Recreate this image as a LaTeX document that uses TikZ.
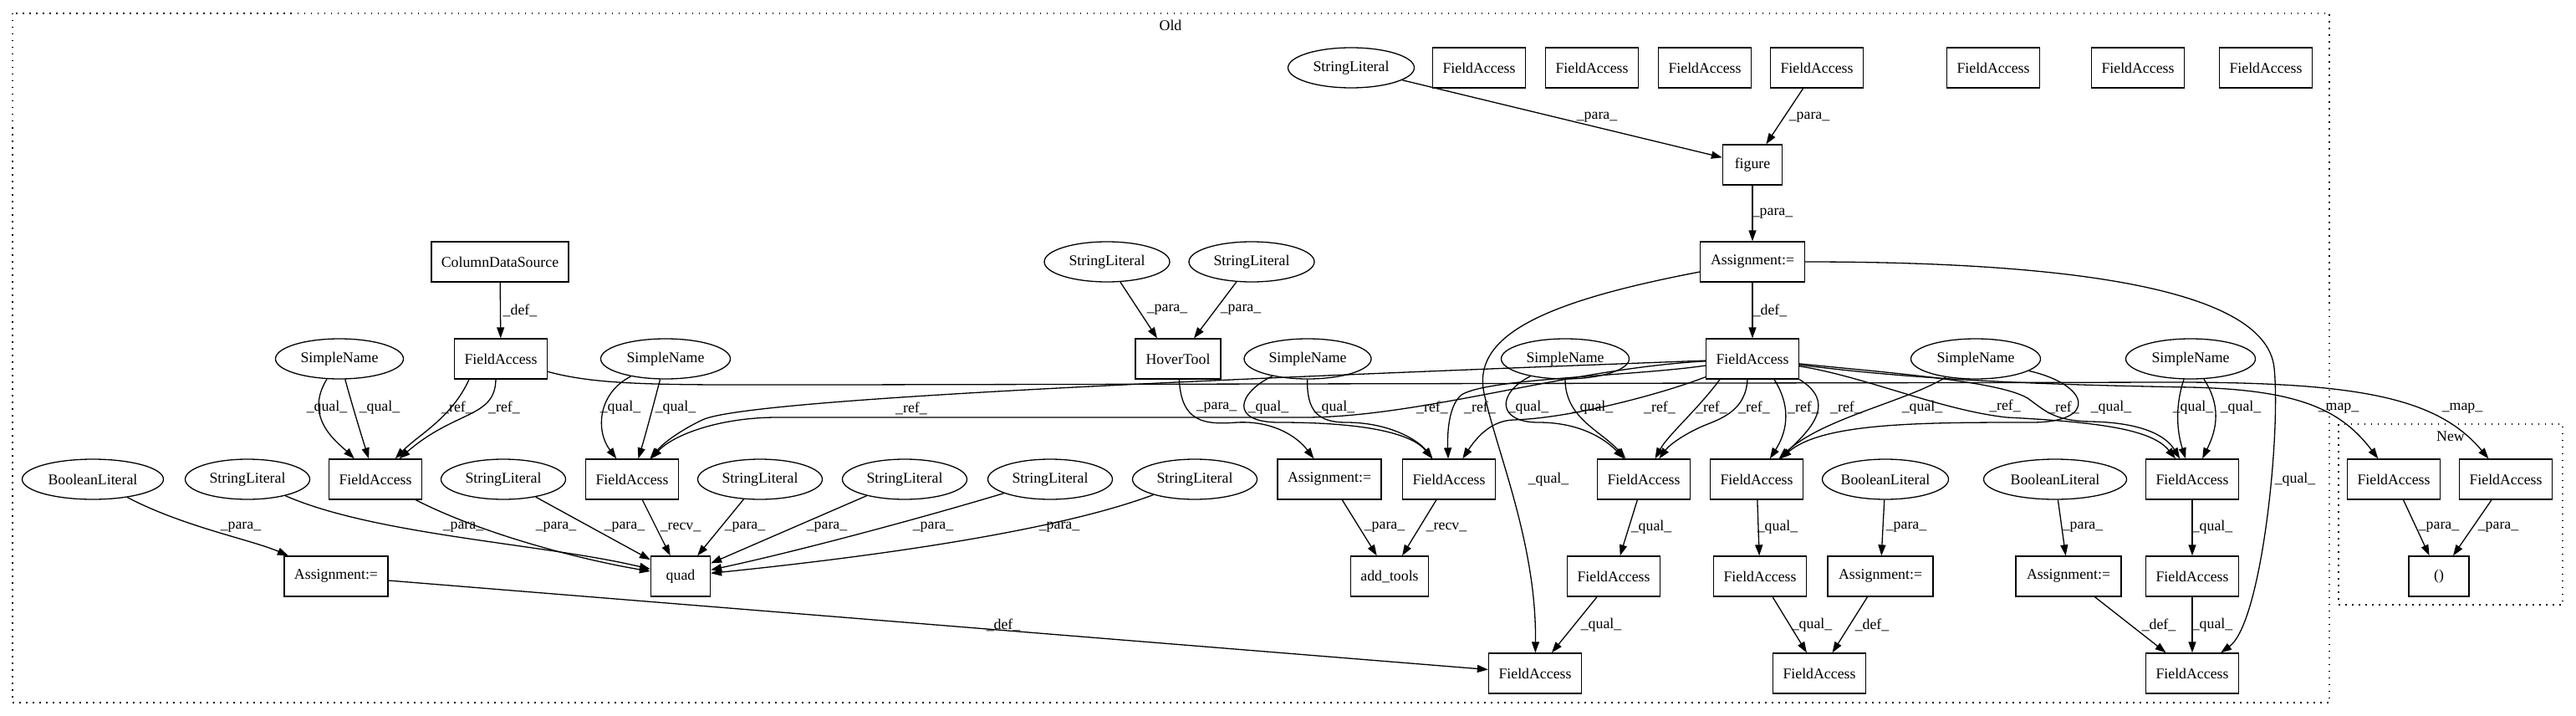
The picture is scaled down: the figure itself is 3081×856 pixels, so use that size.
\documentclass[tikz,border=0pt]{standalone}
\usepackage{fontspec}
\setmainfont{Liberation Serif}
\usetikzlibrary{arrows.meta,shapes.geometric,calc}
\begin{document}
\begin{tikzpicture}[x=1pt,y=-1pt,
  every node/.style={font=\fontsize{17.8pt}{20pt}\selectfont},
  box/.style={draw,rectangle,line width=1.3pt,minimum width=111pt,minimum height=48pt,inner sep=0pt},
  ell/.style={draw,ellipse,line width=1.3pt,minimum width=155pt,minimum height=48pt,inner sep=0pt},
  e/.style={line width=1.3pt,-{Triangle[length=13pt,width=9pt]}},
  lb/.style={inner sep=0pt},
  clus/.style={line width=1.3pt,dash pattern=on 1.5pt off 6.5pt}]
\useasboundingbox (0,0) rectangle (3081,856);
% clusters
\draw[clus] (15,16) rectangle (2786,840);
\node (oldlbl) at (1400,30) {Old};
\draw[clus] (2797,507) rectangle (3065,723);
\node (newlbl) at (2931,522) {New};
% row 0
\node[ell,minimum width=151pt] (sl0) at (1616,81) {StringLiteral};
\node[box] (ft1) at (1769,81) {FieldAccess};
\node[box] (ft2) at (1904,81) {FieldAccess};
\node[box] (ft3) at (2039,81) {FieldAccess};
\node[box] (ft4) at (2173,81) {FieldAccess};
\node[box] (ft5) at (2384,81) {FieldAccess};
\node[box] (ft6) at (2557,81) {FieldAccess};
\node[box] (ft7) at (2710,81) {FieldAccess};
% row 1
\node[box,minimum width=71pt] (fig) at (2096,197) {figure};
% row 2
\node[box,minimum width=125pt] (asg) at (2096,313) {Assignment:=};
\node[box,minimum width=164pt] (cds) at (598,313) {ColumnDataSource};
\node[ell,minimum width=150pt] (slh1) at (1324,313) {StringLiteral};
\node[ell,minimum width=150pt] (slh2) at (1497,313) {StringLiteral};
% row 3
\node[ell,minimum width=153pt] (sn1) at (406,429) {SimpleName};
\node[box] (fac) at (599,429) {FieldAccess};
\node[ell] (sn2) at (796,429) {SimpleName};
\node[box,minimum width=102pt] (hover) at (1409,429) {HoverTool};
\node[ell,minimum width=152pt] (sn3) at (1564,429) {SimpleName};
\node[ell,minimum width=153pt] (sn4) at (1872,429) {SimpleName};
\node[box] (hub) at (2096,429) {FieldAccess};
\node[ell] (sn5) at (2363,429) {SimpleName};
\node[ell] (sn6) at (2620,429) {SimpleName};
% row 4
\node[ell,minimum width=169pt] (bl1) at (111,573) {BooleanLiteral};
\node[ell,minimum width=149pt] (sl1) at (296,573) {StringLiteral};
\node[box] (fa1) at (449,573) {FieldAccess};
\node[ell,minimum width=149pt] (sl2) at (602,573) {StringLiteral};
\node[box] (fa2) at (756,573) {FieldAccess};
\node[ell,minimum width=149pt] (sl3) at (909,573) {StringLiteral};
\node[ell,minimum width=149pt] (sl4) at (1082,573) {StringLiteral};
\node[ell,minimum width=149pt] (sl5) at (1256,573) {StringLiteral};
\node[ell,minimum width=149pt] (sl6) at (1429,573) {StringLiteral};
\node[box,minimum width=124pt] (asg2) at (1590,573) {Assignment:=};
\node[box] (fa3) at (1733,573) {FieldAccess};
\node[box] (fa4) at (1966,573) {FieldAccess};
\node[box] (fa5) at (2101,573) {FieldAccess};
\node[ell,minimum width=149pt] (bl2) at (2255,573) {BooleanLiteral};
\node[ell,minimum width=171pt] (bl3) at (2458,573) {BooleanLiteral};
\node[box] (fa6) at (2622,573) {FieldAccess};
\node[box] (nfa1) at (2863,573) {FieldAccess};
\node[box] (nfa2) at (2997,573) {FieldAccess};
% row 5
\node[box,minimum width=124pt] (asg1) at (402,689) {Assignment:=};
\node[box,minimum width=71pt] (quad) at (814,689) {quad};
\node[box,minimum width=93pt] (addt) at (1662,689) {add\_tools};
\node[box] (fa7) at (1930,689) {FieldAccess};
\node[box] (fa8) at (2105,689) {FieldAccess};
\node[box,minimum width=126pt] (asg3) at (2249,689) {Assignment:=};
\node[box,minimum width=126pt] (asg4) at (2474,689) {Assignment:=};
\node[box] (fa9) at (2622,689) {FieldAccess};
\node[box,minimum width=72pt] (par) at (2917,689) {()};
% row 6
\node[box] (fa10) at (1836,805) {FieldAccess};
\node[box] (fa11) at (2176,805) {FieldAccess};
\node[box] (fa12) at (2622,805) {FieldAccess};

% ---- edges ----
\draw[e] (sl0) -- (fig) node[lb] at (1910,140) {\_para\_};
\draw[e] (ft4) -- (fig) node[lb] at (2164,140) {\_para\_};
\draw[e] (fig) -- (asg) node[lb] at (2120,255) {\_para\_};
\draw[e] (asg) -- (hub) node[lb] at (2117,371) {\_def\_};
\draw[e] (asg) .. controls (1850,360) and (1760,400) .. (1775,470) .. controls (1790,540) and (1838,650) .. (fa10) node[lb] at (1852,573) {\_qual\_};
\draw[e] (asg) .. controls (2450,313) and (2710,340) .. (2720,440) .. controls (2728,520) and (2705,745) .. (fa12) node[lb] at (2745,573) {\_qual\_};
\draw[e] (cds) -- (fac) node[lb] at (622,371) {\_def\_};
\draw[e] (slh1) -- ($(hover.north)+(-25,0)$) node[lb] at (1396,370) {\_para\_};
\draw[e] (slh2) -- ($(hover.north)+(19,0)$) node[lb] at (1484,370) {\_para\_};
% sn1, fac -> fa1
\draw[e] (sn1) .. controls (362,500) and (405,530) .. (fa1) node[lb] at (391,487) {\_qual\_};
\draw[e] (sn1) .. controls (420,480) and (432,520) .. (fa1) node[lb] at (454,487) {\_qual\_};
\draw[e] ($(fac.south)+(-38,0)$) .. controls (540,500) and (500,520) .. (fa1) node[lb] at (547,487) {\_ref\_};
\draw[e] ($(fac.south)+(-6,0)$) .. controls (592,500) and (545,490) .. (fa1) node[lb] at (603,487) {\_ref\_};
% sn2 -> fa2
\draw[e] (sn2) .. controls (715,470) and (712,515) .. (fa2) node[lb] at (742,487) {\_qual\_};
\draw[e] (sn2) .. controls (780,490) and (772,520) .. (fa2) node[lb] at (808,487) {\_qual\_};
% hub -> fa2
\draw[e] (hub) .. controls (1400,455) and (890,478) .. (840,502) .. controls (815,514) and (795,528) .. (fa2) node[lb] at (1090,488) {\_ref\_};
\draw[e] (hub) .. controls (1880,440) and (1700,499) .. (1560,499) -- (930,499) .. controls (860,499) and (805,520) .. (fa2) node[lb] at (2098,487) {\_ref\_};
% hub -> fa3
\draw[e] (hub) .. controls (1950,450) and (1780,452) .. (1748,472) .. controls (1732,485) and (1731,520) .. (fa3) node[lb] at (1713,487) {\_ref\_};
\draw[e] (hub) .. controls (1990,470) and (1880,500) .. (1810,502) .. controls (1785,503) and (1768,520) .. (fa3) node[lb] at (1770,487) {\_ref\_};
% sn3 -> fa3
\draw[e] (sn3) .. controls (1480,470) and (1470,505) .. (1530,505) .. controls (1640,505) and (1690,520) .. (fa3) node[lb] at (1517,487) {\_qual\_};
\draw[e] (sn3) .. controls (1563,490) and (1575,505) .. (1610,505) .. controls (1660,505) and (1695,525) .. (fa3) node[lb] at (1596,487) {\_qual\_};
% hover -> asg2
\draw[e] (hover) .. controls (1413,505) and (1440,508) .. (1480,505) .. controls (1520,503) and (1550,520) .. (asg2) node[lb] at (1455,487) {\_para\_};
\draw[e] (asg2) -- (addt) node[lb] at (1656,630) {\_para\_};
\draw[e] (fa3) -- (addt) node[lb] at (1730,630) {\_recv\_};
% sn4 -> fa4
\draw[e] (sn4) .. controls (1790,470) and (1790,505) .. (1840,505) .. controls (1890,505) and (1920,525) .. (fa4) node[lb] at (1828,487) {\_qual\_};
\draw[e] (sn4) .. controls (1872,500) and (1915,515) .. (fa4) node[lb] at (1905,487) {\_qual\_};
% hub -> fa4
\draw[e] ($(hub.south)+(-39,0)$) .. controls (2030,490) and (1995,520) .. (fa4) node[lb] at (1985,487) {\_ref\_};
\draw[e] ($(hub.south)+(-6,0)$) .. controls (2088,490) and (2060,500) .. (2040,508) .. controls (2020,516) and (1998,530) .. (fa4) node[lb] at (2047,487) {\_ref\_};
% hub -> fa5
\draw[e] ($(hub.south)+(26,0)$) .. controls (2145,490) and (2135,520) .. (fa5) node[lb] at (2157,487) {\_ref\_};
\draw[e] (hub.south east) .. controls (2195,480) and (2170,510) .. (fa5) node[lb] at (2208,487) {\_ref\_};
% sn5 -> fa5
\draw[e] (sn5) .. controls (2280,480) and (2180,500) .. (fa5) node[lb] at (2299,487) {\_qual\_};
\draw[e] (sn5) .. controls (2500,460) and (2510,505) .. (2430,505) .. controls (2300,505) and (2180,505) .. (fa5) node[lb] at (2525,487) {\_qual\_};
% hub -> fa6
\draw[e] (hub) .. controls (2230,450) and (2320,490) .. (2400,499) .. controls (2520,505) and (2575,515) .. (fa6) node[lb] at (2398,485) {\_ref\_};
\draw[e] (hub) .. controls (2250,445) and (2390,455) .. (2425,476) .. controls (2445,490) and (2455,503) .. (2500,504) .. controls (2560,505) and (2590,520) .. (fa6) node[lb] at (2468,487) {\_ref\_};
% sn6 -> fa6
\draw[e] (sn6) .. controls (2600,490) and (2605,520) .. (fa6) node[lb] at (2623,487) {\_qual\_};
\draw[e] (sn6) .. controls (2660,490) and (2648,520) .. (fa6) node[lb] at (2680,487) {\_qual\_};
% map edges
\draw[e] (fac) .. controls (720,462) and (800,460) .. (1000,460) -- (2600,457) .. controls (2820,457) and (2915,475) .. (nfa2) node[lb] at (2945,488) {\_map\_};
\draw[e] (hub) .. controls (2300,455) and (2450,460) .. (2620,463) .. controls (2750,466) and (2800,490) .. (nfa1) node[lb] at (2797,488) {\_map\_};
\draw[e] (nfa1) -- (par) node[lb] at (2917,630) {\_para\_};
\draw[e] (nfa2) -- (par) node[lb] at (2988,630) {\_para\_};
% quad
\draw[e] (sl1) .. controls (450,640) and (650,650) .. (quad) node[lb] at (554,630) {\_para\_};
\draw[e] (fa1) .. controls (580,640) and (700,670) .. (quad) node[lb] at (665,630) {\_para\_};
\draw[e] (sl2) -- (quad) node[lb] at (747,630) {\_para\_};
\draw[e] (fa2) -- (quad) node[lb] at (814,630) {\_recv\_};
\draw[e] (sl3) -- (quad) node[lb] at (891,630) {\_para\_};
\draw[e] (sl4) -- (quad) node[lb] at (989,630) {\_para\_};
\draw[e] (sl5) .. controls (1100,620) and (950,660) .. (quad) node[lb] at (1116,630) {\_para\_};
\draw[e] (sl6) .. controls (1250,640) and (1000,670) .. (quad) node[lb] at (1267,630) {\_para\_};
% bool / assignments
\draw[e] (bl1) .. controls (220,630) and (300,645) .. (asg1) node[lb] at (288,630) {\_para\_};
\draw[e] (asg1) -- (fa10) node[lb] at (1200,747) {\_def\_};
\draw[e] (bl2) -- (asg3) node[lb] at (2280,630) {\_para\_};
\draw[e] (bl3) -- (asg4) node[lb] at (2491,630) {\_para\_};
% chains
\draw[e] (fa4) -- (fa7) node[lb] at (1975,630) {\_qual\_};
\draw[e] (fa7) -- (fa10) node[lb] at (1915,747) {\_qual\_};
\draw[e] (fa5) -- (fa8) node[lb] at (2126,630) {\_qual\_};
\draw[e] (fa8) -- (fa11) node[lb] at (2167,747) {\_qual\_};
\draw[e] (asg3) -- (fa11) node[lb] at (2239,747) {\_def\_};
\draw[e] (fa6) -- (fa9) node[lb] at (2646,630) {\_qual\_};
\draw[e] (fa9) -- (fa12) node[lb] at (2646,747) {\_qual\_};
\draw[e] (asg4) -- (fa12) node[lb] at (2582,747) {\_def\_};
\end{tikzpicture}
\end{document}
